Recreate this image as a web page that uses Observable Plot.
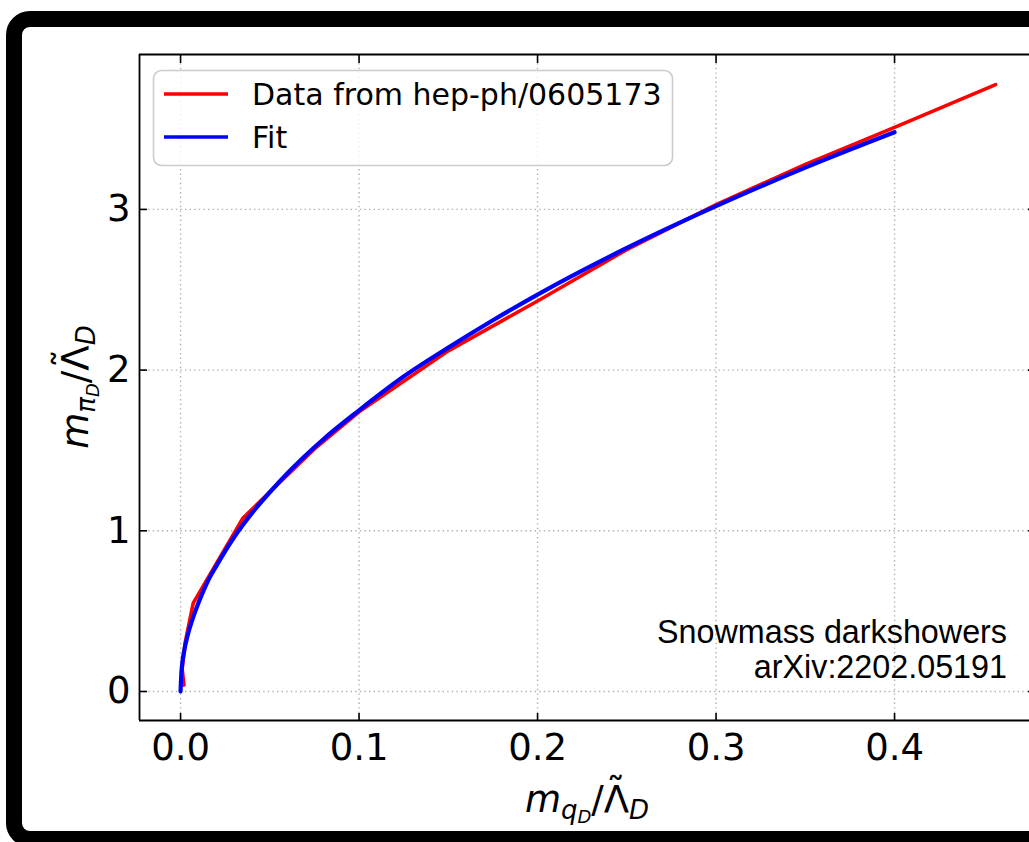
<!DOCTYPE html>
<html><head><meta charset="utf-8">
<script src="https://cdn.jsdelivr.net/npm/d3@7"></script>
<script src="https://cdn.jsdelivr.net/npm/@observablehq/plot@0.6"></script>
<style>
html,body{margin:0;padding:0;background:#fff;}
#wrap{position:relative;width:1029px;height:842px;overflow:hidden;background:#fff;}
#wrap svg{position:absolute;left:0;top:0;}
#border{position:absolute;left:6px;top:11px;width:1100px;height:836px;box-sizing:border-box;border:16px solid #000;border-radius:24px;pointer-events:none;z-index:2;}
</style></head><body>
<div id="wrap"><div id="border"></div></div>
<script>
// ---- data ----
const xTicks = [0, 0.1, 0.2, 0.3, 0.4];
const xTickLabels = ["0.0", "0.1", "0.2", "0.3", "0.4"];
const yTicks = [0, 1, 2, 3];
const yTickLabels = ["0", "1", "2", "3"];

const seriesNames = ["Data from hep-ph/0605173", "Fit"];

const dataX = [0.0019, 0.0009, 0.0025, 0.0071, 0.035, 0.075, 0.10, 0.15, 0.20, 0.25, 0.30, 0.35, 0.40, 0.4566];
const dataY = [0.04, 0.14, 0.30, 0.55, 1.08, 1.51, 1.74, 2.12, 2.43, 2.75, 3.03, 3.28, 3.51, 3.777];

const fitX = [0, 0.0005, 0.001, 0.002, 0.004, 0.007, 0.01, 0.015, 0.02, 0.03, 0.04, 0.05, 0.06, 0.08, 0.10, 0.125, 0.15, 0.175, 0.20, 0.25, 0.30, 0.35, 0.40];
const fitY = [0, 0.12, 0.18, 0.25, 0.35, 0.46, 0.55, 0.68, 0.78, 0.96, 1.11, 1.24, 1.36, 1.57, 1.75, 1.96, 2.14, 2.31, 2.47, 2.76, 3.02, 3.26, 3.48];

const annotationLines = ["Snowmass darkshowers", "arXiv:2202.05191"];

// ---- build tables ----
const dataRows = dataX.map((x, i) => ({x, y: dataY[i]}));
const fitRows = fitX.map((x, i) => ({x, y: fitY[i]}));
const colors = ["red", "blue"];

const xDomain = [-0.023, 0.4756];
const yDomain = [-0.1805, 3.964];

const gridStyle = {stroke: "#b0b0b0", strokeOpacity: 1, strokeWidth: 1.4, strokeDasharray: "1.4,3.2"};
const tickStyle = {stroke: "black", strokeWidth: 1.6, fill: "none", label: null};

const chart = Plot.plot({
  width: 1029,
  height: 842,
  marginLeft: 139,
  marginRight: 0,
  marginTop: 54,
  marginBottom: 122,
  x: {domain: xDomain},
  y: {domain: yDomain},
  style: {fontFamily: "DejaVu Sans", background: "transparent", overflow: "visible", color: "black"},
  marks: [
    Plot.gridX(xTicks, gridStyle),
    Plot.gridY(yTicks, gridStyle),
    Plot.line(dataRows, {x: "x", y: "y", stroke: colors[0], strokeWidth: 3.6}),
    Plot.line(fitRows, {x: "x", y: "y", stroke: colors[1], strokeWidth: 4.2, curve: "monotone-x"}),
    // spines
    Plot.ruleX([xDomain[0]], {stroke: "black", strokeWidth: 1.8}),
    Plot.ruleY([yDomain[0], yDomain[1]], {stroke: "black", strokeWidth: 1.8}),
    // inward ticks
    Plot.axisX(xTicks, {anchor: "bottom", tickSize: 7, dy: -7, ...tickStyle}),
    Plot.axisX(xTicks, {anchor: "top", tickSize: 8, dy: 8, ...tickStyle}),
    Plot.axisY(yTicks, {anchor: "left", tickSize: 8, dx: 8, ...tickStyle}),
    Plot.axisY(yTicks, {anchor: "right", tickSize: 7, dx: -2, ...tickStyle}),
    // tick labels
    Plot.axisX(xTicks, {anchor: "bottom", tickSize: 0, tickPadding: 13, fontSize: 37, label: null,
      tickFormat: (d) => xTickLabels[xTicks.indexOf(d)]}),
    Plot.axisY(yTicks, {anchor: "left", tickSize: 0, tickPadding: 9, fontSize: 37, label: null,
      tickFormat: (d) => yTickLabels[yTicks.indexOf(d)]})
  ]
});

const wrap = document.getElementById("wrap");
wrap.appendChild(chart);

const svg = d3.select(chart);

// legend
const lg = svg.append("g").attr("font-family", "DejaVu Sans").attr("font-size", 30).attr("text-anchor", "start");
lg.append("rect").attr("x", 153.5).attr("y", 70.5).attr("width", 519).attr("height", 95)
  .attr("rx", 8).attr("fill", "white").attr("fill-opacity", 0.8)
  .attr("stroke", "#cccccc").attr("stroke-width", 1.6);
seriesNames.forEach((name, i) => {
  const cy = 94 + i * 43;
  lg.append("line").attr("x1", 164).attr("x2", 228).attr("y1", cy).attr("y2", cy)
    .attr("stroke", colors[i]).attr("stroke-width", 3.6);
  lg.append("text").attr("x", 252).attr("y", cy + 11).attr("fill", "black").text(name);
});

// annotation
const an = svg.append("g").attr("font-family", "Liberation Sans, Arial, sans-serif").attr("font-size", 32.3)
  .attr("text-anchor", "end").attr("fill", "black");
annotationLines.forEach((t, i) => {
  an.append("text").attr("x", 1007).attr("y", 643 + i * 35).text(t);
});

// axis labels (mathtext-like)
function mathLabel(g, subMain, subSub) {
  g.append("tspan").attr("font-style", "italic").text("m");
  g.append("tspan").attr("font-style", "italic").attr("font-size", 26).attr("dy", 7).text(subMain);
  g.append("tspan").attr("font-style", "italic").attr("font-size", 18).attr("dy", 4).text(subSub);
  g.append("tspan").attr("font-size", 37).attr("dy", -11).text("/");
  g.append("tspan").attr("font-size", 37).text("\u039B");
  // tilde accent centred over the Lambda
  g.append("tspan").attr("font-size", 37).attr("dx", -22.5).attr("dy", -8).text("\u02DC");
  g.append("tspan").attr("font-style", "italic").attr("font-size", 26).attr("dx", 4).attr("dy", 15).text("D");
}
const xl = svg.append("text").attr("x", 587).attr("y", 812).attr("text-anchor", "middle")
  .attr("font-family", "DejaVu Sans").attr("font-size", 37).attr("fill", "black");
mathLabel(xl, "q", "D");
const yl = svg.append("text").attr("transform", "translate(88,387) rotate(-90)").attr("text-anchor", "middle")
  .attr("font-family", "DejaVu Sans").attr("font-size", 37).attr("fill", "black");
mathLabel(yl, "\u03C0", "D");
</script>
</body></html>
